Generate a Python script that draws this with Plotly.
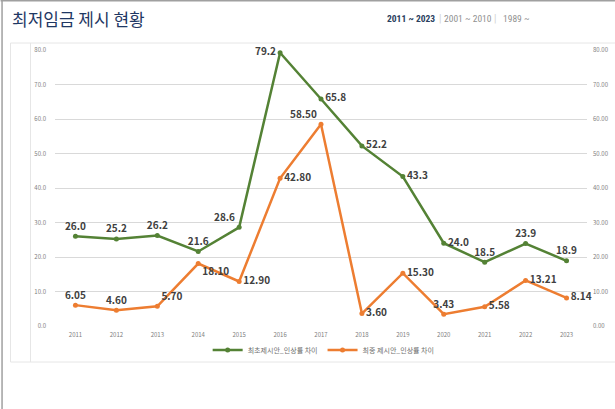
import plotly.graph_objects as go

years = ["2011", "2012", "2013", "2014", "2015", "2016", "2017",
         "2018", "2019", "2020", "2021", "2022", "2023"]
first_gap = [26.0, 25.2, 26.2, 21.6, 28.6, 79.2, 65.8, 52.2, 43.3, 24.0, 18.5, 23.9, 18.9]
final_gap = [6.05, 4.60, 5.70, 18.10, 12.90, 42.80, 58.50, 3.60, 15.30, 3.43, 5.58, 13.21, 8.14]
first_labels = ["26.0", "25.2", "26.2", "21.6", "28.6", "79.2", "65.8", "52.2", "43.3",
                "24.0", "18.5", "23.9", "18.9"]
final_labels = ["6.05", "4.60", "5.70", "18.10", "12.90", "42.80", "58.50", "3.60", "15.30",
                "3.43", "5.58", "13.21", "8.14"]
first_name = "최초제시안_인상률 차이"
final_name = "최종 제시안_인상률 차이"
y_ticks = [0, 10, 20, 30, 40, 50, 60, 70, 80]

first_pos = ["top center", "top center", "top center", "top center", "top left",
             "middle left", "middle right", "middle right", "middle right",
             "middle right", "top center", "top center", "top center"]
final_pos = ["top center", "top center", "top right", "bottom right", "middle right",
             "middle right", "top left", "middle right", "middle right",
             "top center", "middle right", "middle right", "middle right"]

GREEN = "#548235"
ORANGE = "#ED7D31"
LBL = dict(family="Noto Sans CJK KR", size=10, color="#404040", weight="bold")

W, H = 615, 409
L, R, T, B = 54.5, 587, 50, 326


def px(x):
    return (x - L) / (R - L)


def py(y):
    return (B - y) / (B - T)


fig = go.Figure()
fig.add_trace(go.Scatter(
    x=years, y=first_gap, name=first_name, mode="lines+markers+text",
    line=dict(color=GREEN, width=2.5), marker=dict(size=5, color=GREEN),
    text=first_labels, textposition=first_pos, textfont=LBL, cliponaxis=False))
fig.add_trace(go.Scatter(
    x=years, y=final_gap, name=final_name, mode="lines+markers+text",
    line=dict(color=ORANGE, width=2.5), marker=dict(size=5, color=ORANGE),
    text=final_labels, textposition=final_pos, textfont=LBL, cliponaxis=False))
# invisible trace for right axis
fig.add_trace(go.Scatter(x=years, y=final_gap, yaxis="y2", showlegend=False,
                         mode="markers", marker=dict(opacity=0), hoverinfo="skip"))

tickfont = dict(family="Noto Sans CJK KR", size=6, color="#808080")
fig.update_layout(
    width=W, height=H, paper_bgcolor="white", plot_bgcolor="white",
    margin=dict(l=L, r=W - R, t=T, b=H - B, autoexpand=False),
    showlegend=True,
    legend=dict(orientation="h", x=0.505, xanchor="center", y=py(350), yanchor="middle",
                font=dict(family="Noto Sans CJK KR", size=7, color="#707070"),
                itemwidth=30, tracegroupgap=0, bgcolor="rgba(0,0,0,0)"),
    xaxis=dict(type="category", range=[-0.5, 12.5], showgrid=False, zeroline=False,
               showline=False, ticks="", tickfont=tickfont, ticklabelstandoff=4),
    yaxis=dict(range=[0, 80], tickvals=y_ticks, ticktext=[f"{v:.1f}" for v in y_ticks],
               showgrid=True, gridcolor="#d9d9d9", gridwidth=1, zeroline=False,
               showline=False, ticks="", tickfont=tickfont, ticklabelstandoff=8),
    yaxis2=dict(range=[0, 80], overlaying="y", side="right", tickvals=y_ticks,
                ticktext=[f"{v:.2f}" for v in y_ticks], showgrid=False, zeroline=False,
                showline=False, ticks="", tickfont=tickfont, ticklabelstandoff=5),
)

line_gray = "#a0a0a0"
light = "#e6e6e6"
shapes = [
    # outer frame
    dict(type="line", x0=px(1.5), x1=px(1.5), y0=py(0), y1=py(409), line=dict(color=line_gray, width=1.5)),
    dict(type="line", x0=px(0), x1=px(615), y0=py(0.7), y1=py(0.7), line=dict(color=line_gray, width=1.5)),
    # chart box
    dict(type="line", x0=px(10), x1=px(615), y0=py(43), y1=py(43), line=dict(color=light, width=1)),
    dict(type="line", x0=px(10), x1=px(615), y0=py(362), y1=py(362), line=dict(color=light, width=1)),
    dict(type="line", x0=px(10), x1=px(10), y0=py(43), y1=py(362), line=dict(color=light, width=1)),
    dict(type="line", x0=px(30), x1=px(30), y0=py(43), y1=py(362), line=dict(color=light, width=1)),
]
for s in shapes:
    s.update(xref="paper", yref="paper", layer="below")
fig.update_layout(shapes=shapes)

NARROW = "Liberation Sans Narrow, Roboto Condensed, Noto Sans CJK KR"
ann = [
    dict(text="최저임금 제시 현황", x=px(9), y=py(19), xanchor="left", yanchor="middle",
         font=dict(family="Noto Sans CJK KR", size=17, color="#1f3864")),
    dict(text="<b>2011 ~ 2023</b>", x=px(411), y=py(19), xanchor="center", yanchor="middle",
         font=dict(family=NARROW, size=9.5, color="#2b3f60")),
    dict(text="|", x=px(440), y=py(19), xanchor="center", yanchor="middle",
         font=dict(family=NARROW, size=10, color="#d0d0d0")),
    dict(text="2001 ~ 2010", x=px(468), y=py(19), xanchor="center", yanchor="middle",
         font=dict(family=NARROW, size=9.5, color="#909090")),
    dict(text="|", x=px(495), y=py(19), xanchor="center", yanchor="middle",
         font=dict(family=NARROW, size=10, color="#d0d0d0")),
    dict(text="1989 ~", x=px(501), y=py(19), xanchor="left", yanchor="middle",
         font=dict(family=NARROW, size=9.5, color="#909090")),
]
for a in ann:
    a.update(xref="paper", yref="paper", showarrow=False)
fig.update_layout(annotations=ann)

fig.write_html("out.html", config={"displayModeBar": False},
               post_script="document.body.style.margin='0';document.body.style.overflow='hidden';")
